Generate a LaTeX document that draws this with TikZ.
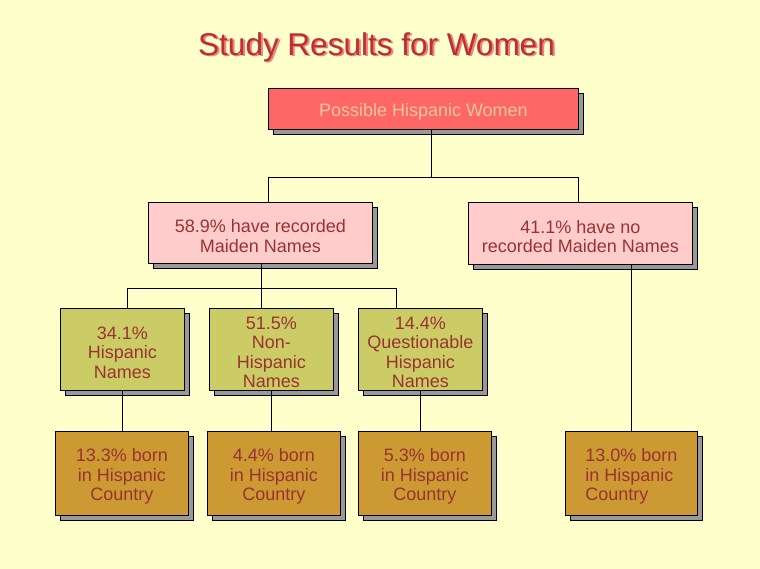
\documentclass[tikz,border=0pt]{standalone}
\usepackage{fontspec}
\setmainfont{Liberation Sans}
\definecolor{bg}{HTML}{FFFFCC}
\definecolor{topfill}{HTML}{FF6666}
\definecolor{toptext}{HTML}{E8C8A0}
\definecolor{midfill}{HTML}{FFCCCC}
\definecolor{lvlthree}{HTML}{CCCC66}
\definecolor{lvlfour}{HTML}{CC9933}
\definecolor{txt}{HTML}{993333}
\definecolor{shadowgrey}{HTML}{999999}
\definecolor{titlered}{HTML}{B83030}
\definecolor{titleshadow}{HTML}{F08080}
\tikzset{
  box/.style={draw=black, line width=0.8pt, inner sep=0pt, anchor=north west,
    preaction={draw=black, fill=shadowgrey, line width=0.8pt, transform canvas={shift={(5pt,-5pt)}}}},
  boxtext/.style={font=\fontsize{18}{19.5}\selectfont, text=txt, align=center, inner sep=0pt, yshift=-3pt},
  conn/.style={draw=black, line width=0.8pt},
  titlefont/.style={font=\fontsize{31.5}{36}\selectfont},
}
\begin{document}
\begin{tikzpicture}[x=1pt,y=-1pt]
\fill[bg] (0,0) rectangle (760,569);
\useasboundingbox (0,0) rectangle (760,569);
% title
\node[text=titleshadow, titlefont] (titleshadow) at (378.5,48.5) {Study Results for Women};
\node[text=titlered, titlefont] (title) at (376.5,47) {Study Results for Women};
% junctions
\coordinate (j1) at (431,177);
\coordinate (j1l) at (268,177);
\coordinate (j1r) at (578,177);
\coordinate (j2) at (261,288);
\coordinate (j2l) at (127,288);
\coordinate (j2r) at (396,288);
% boxes
\node[box, fill=topfill, minimum width=310pt, minimum height=41pt,
  label={[boxtext, text=toptext]center:Possible Hispanic Women}] (top) at (268,88) {};
\node[box, fill=midfill, minimum width=224pt, minimum height=61pt,
  label={[boxtext]center:58.9\% have recorded\\Maiden Names}] (recorded) at (148,202) {};
\node[box, fill=midfill, minimum width=224pt, minimum height=62pt,
  label={[boxtext]center:41.1\% have no\\recorded Maiden Names}] (norecord) at (468,202) {};
\node[box, fill=lvlthree, minimum width=124pt, minimum height=82pt,
  label={[boxtext]center:34.1\%\\Hispanic\\Names}] (hisp) at (60,308) {};
\node[box, fill=lvlthree, minimum width=124pt, minimum height=82pt,
  label={[boxtext]center:51.5\%\\Non-\\Hispanic\\Names}] (nonhisp) at (209,308) {};
\node[box, fill=lvlthree, minimum width=124pt, minimum height=82pt,
  label={[boxtext]center:14.4\%\\Questionable\\Hispanic\\Names}] (quest) at (358,308) {};
\node[box, fill=lvlfour, minimum width=133pt, minimum height=84pt,
  label={[boxtext]center:13.3\% born\\in Hispanic\\Country}] (bornA) at (55,431) {};
\node[box, fill=lvlfour, minimum width=133pt, minimum height=84pt,
  label={[boxtext]center:4.4\% born\\in Hispanic\\Country}] (bornB) at (207,431) {};
\node[box, fill=lvlfour, minimum width=133pt, minimum height=84pt,
  label={[boxtext]center:5.3\% born\\in Hispanic\\Country}] (bornC) at (358,431) {};
\node[box, fill=lvlfour, minimum width=132pt, minimum height=84pt,
  label={[boxtext, align=left]center:13.0\% born\\in Hispanic\\Country}] (bornD) at (565,431) {};
% connectors
\draw[conn] (top.south -| j1) -- (j1);
\draw[conn] (j1l) -- (j1r);
\draw[conn] (j1l) -- (j1l |- recorded.north);
\draw[conn] (j1r) -- (j1r |- norecord.north);
\draw[conn] (recorded.south -| j2) -- (j2);
\draw[conn] (j2l) -- (j2r);
\draw[conn] (j2l) -- (hisp.north -| j2l);
\draw[conn] (j2) -- (nonhisp.north -| j2);
\draw[conn] (j2r) -- (quest.north -| j2r);
\draw[conn] (hisp.south -| 122,0) -- (bornA.north -| 122,0);
\draw[conn] (nonhisp.south -| 271,0) -- (bornB.north -| 271,0);
\draw[conn] (quest.south -| 420,0) -- (bornC.north -| 420,0);
\draw[conn] (norecord.south -| 631,0) -- (bornD.north -| 631,0);
\end{tikzpicture}
\end{document}
